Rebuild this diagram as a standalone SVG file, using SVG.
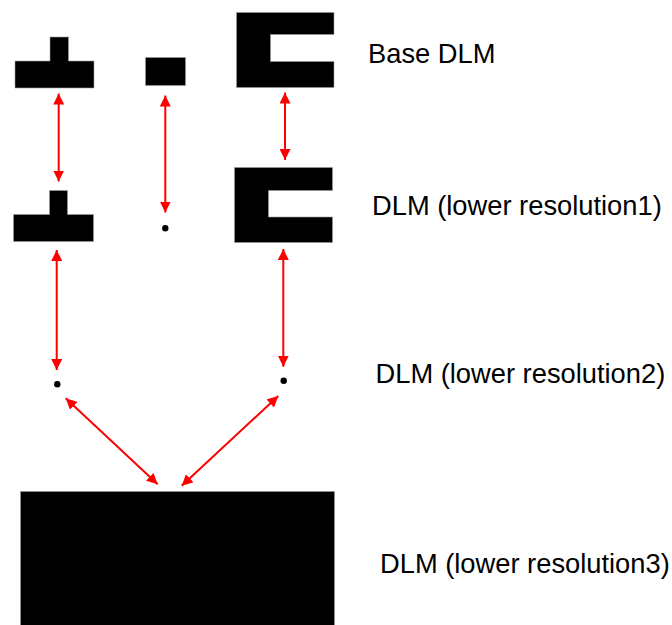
<svg xmlns="http://www.w3.org/2000/svg" width="672" height="625" viewBox="0 0 672 625">
  <style>
    .shape { fill: #000000; stroke: #9a9a9a; stroke-width: 0.6; }
    .dot { fill: #000000; }
    .link { stroke: #ff0000; stroke-width: 2; fill: none; }
    .label { font-family: "Liberation Sans", Arial, sans-serif; font-size: 27.3px; fill: #000000; }
  </style>
  <defs>
    <marker id="head" viewBox="0 0 10 10" refX="10" refY="5" markerWidth="5.5" markerHeight="5.5" orient="auto-start-reverse" markerUnits="strokeWidth">
      <path d="M0,0 L10,5 L0,10 Z" fill="#ff0000"/>
    </marker>
  </defs>
  <rect width="672" height="625" fill="#ffffff"/>

  <!-- Base level -->
  <g id="base-t">
    <path class="shape" d="M50,37 H68.5 V61 H94 V88 H15 V61 H50 Z"/>
  </g>
  <g id="base-block">
    <rect class="shape" x="145.5" y="57.5" width="40" height="28"/>
  </g>
  <g id="base-c">
    <path class="shape" d="M236.5,12.5 H334 V34.5 H270.5 V61.5 H334 V87.5 H236.5 Z"/>
  </g>

  <!-- Lower resolution 1 -->
  <g id="res1-t">
    <path class="shape" d="M49.5,190.5 H67.5 V214.5 H93.5 V241.5 H13.5 V214.5 H49.5 Z"/>
  </g>
  <g id="res1-dot">
    <circle class="dot" cx="165.3" cy="228.3" r="3.2"/>
  </g>
  <g id="res1-c">
    <path class="shape" d="M234.5,167.5 H332.5 V190.5 H268.5 V217 H332.5 V242.5 H234.5 Z"/>
  </g>

  <!-- Lower resolution 2 -->
  <g id="res2-left">
    <circle class="dot" cx="57.3" cy="384.3" r="3.2"/>
  </g>
  <g id="res2-right">
    <circle class="dot" cx="283.7" cy="380.7" r="3.2"/>
  </g>

  <!-- Lower resolution 3 -->
  <g id="res3-block">
    <rect class="shape" x="20.5" y="491.5" width="314" height="140"/>
  </g>

  <!-- Connectors -->
  <g id="connectors">
    <line class="link" x1="58.7" y1="93.5" x2="58.7" y2="181.5" marker-start="url(#head)" marker-end="url(#head)"/>
    <line class="link" x1="165.3" y1="95.5" x2="165.3" y2="212.5" marker-start="url(#head)" marker-end="url(#head)"/>
    <line class="link" x1="285" y1="92.5" x2="285" y2="160" marker-start="url(#head)" marker-end="url(#head)"/>
    <line class="link" x1="56.7" y1="250" x2="56.7" y2="370" marker-start="url(#head)" marker-end="url(#head)"/>
    <line class="link" x1="283.3" y1="249" x2="283.3" y2="366.7" marker-start="url(#head)" marker-end="url(#head)"/>
    <line class="link" x1="65.7" y1="398.3" x2="157.7" y2="484.3" marker-start="url(#head)" marker-end="url(#head)"/>
    <line class="link" x1="278.3" y1="396" x2="181.7" y2="485.7" marker-start="url(#head)" marker-end="url(#head)"/>
  </g>

  <!-- Level labels -->
  <g id="labels">
    <text class="label" x="368" y="63">Base DLM</text>
    <text class="label" x="372" y="215">DLM (lower resolution1)</text>
    <text class="label" x="375.5" y="383">DLM (lower resolution2)</text>
    <text class="label" x="380" y="573">DLM (lower resolution3)</text>
  </g>
</svg>
